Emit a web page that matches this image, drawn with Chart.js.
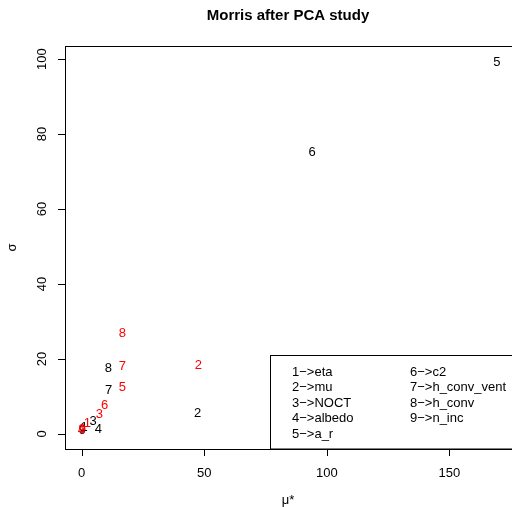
<!DOCTYPE html>
<html>
<head>
<meta charset="utf-8">
<script src="https://cdn.jsdelivr.net/npm/chart.js@4/dist/chart.umd.min.js"></script>
<style>
  html, body { margin: 0; padding: 0; background: #fff; overflow: hidden; }
  #wrap { width: 512px; height: 507px; overflow: hidden; }
</style>
</head>
<body>
<div id="wrap"><canvas id="myChart" width="530" height="507"></canvas></div>
<script>
"use strict";
// Morris screening: mu* vs sigma, two runs (black, red), points labelled by parameter index
const pointLabels = ["1", "2", "3", "4", "5", "6", "7", "8", "9"];
const muStarBlack = [1.0, 47.3, 4.7, 6.8, 169.4, 94.0, 11.0, 10.9, 0.3];
const sigmaBlack = [1.8, 5.5, 3.3, 1.3, 99.2, 75.2, 11.7, 17.5, 1.0];
const muStarRed = [2.3, 47.6, 7.2, -0.1, 16.6, 9.4, 16.6, 16.6, 0.2];
const sigmaRed = [2.8, 18.2, 5.3, 0.9, 12.3, 7.7, 18.1, 26.8, 1.1];
const paramNames = ["eta", "mu", "NOCT", "albedo", "a_r", "c2", "h_conv_vent", "h_conv", "n_inc"];
const xTicks = [0, 50, 100, 150];
const yTicks = [0, 20, 40, 60, 80, 100];

const FONT = "'Liberation Sans', Arial, Helvetica, sans-serif";

function toPoints(xs, ys) {
    return xs.map((x, i) => ({ x: x, y: ys[i], label: pointLabels[i] }));
}

// draws the R-style frame, axes, labelled points and the parameter key
const basePlot = {
    id: "basePlot",
    afterDraw(chart) {
        const ctx = chart.ctx;
        const area = chart.chartArea;
        const xs = chart.scales.x;
        const ys = chart.scales.y;
        ctx.save();

        // point labels
        ctx.font = "13px " + FONT;
        ctx.textAlign = "center";
        ctx.textBaseline = "middle";
        chart.data.datasets.forEach(ds => {
            ctx.fillStyle = ds.textColor;
            ds.data.forEach(p => {
                ctx.fillText(p.label, xs.getPixelForValue(p.x), ys.getPixelForValue(p.y));
            });
        });

        // frame
        ctx.strokeStyle = "#000";
        ctx.lineWidth = 1;
        ctx.strokeRect(Math.round(area.left) + 0.5, Math.round(area.top) + 0.5,
            Math.round(area.right - area.left), Math.round(area.bottom - area.top));

        // tick marks
        ctx.beginPath();
        xTicks.forEach(t => {
            const px = Math.round(xs.getPixelForValue(t)) + 0.5;
            ctx.moveTo(px, area.bottom);
            ctx.lineTo(px, area.bottom + 7);
        });
        yTicks.forEach(t => {
            const py = Math.round(ys.getPixelForValue(t)) + 0.5;
            ctx.moveTo(area.left, py);
            ctx.lineTo(area.left - 7, py);
        });
        ctx.stroke();

        ctx.fillStyle = "#000";
        ctx.font = "13px " + FONT;
        xTicks.forEach(t => {
            ctx.fillText(String(t), xs.getPixelForValue(t), area.bottom + 24);
        });
        yTicks.forEach(t => {
            ctx.save();
            ctx.translate(area.left - 23, ys.getPixelForValue(t));
            ctx.rotate(-Math.PI / 2);
            ctx.fillText(String(t), 0, 0);
            ctx.restore();
        });

        // axis titles and main title
        const midX = (area.left + area.right) / 2;
        ctx.fillText("μ*", midX - 2, area.bottom + 51);
        ctx.save();
        ctx.translate(12, (area.top + area.bottom) / 2);
        ctx.rotate(-Math.PI / 2);
        ctx.fillText("σ", 0, 0);
        ctx.restore();
        ctx.font = "bold 15px " + FONT;
        ctx.fillText("Morris after PCA study", midX - 2, 16);

        // parameter key, bottom right
        const boxLeft = 270.5, boxTop = 355.5;
        ctx.strokeRect(boxLeft, boxTop, area.right - boxLeft, area.bottom - boxTop);
        ctx.font = "13px " + FONT;
        ctx.textAlign = "left";
        paramNames.forEach((name, i) => {
            const col = i < 5 ? 0 : 1;
            const row = i < 5 ? i : i - 5;
            ctx.fillText((i + 1) + "\u2212>" + name, 292 + col * 118, 372 + row * 15.6);
        });
        ctx.restore();
    }
};

const ctx = document.querySelector("#myChart").getContext("2d");
const myChart = new Chart(ctx, {
    type: "scatter",
    data: {
        datasets: [
            { data: toPoints(muStarBlack, sigmaBlack), textColor: "#000000", pointRadius: 0 },
            { data: toPoints(muStarRed, sigmaRed), textColor: "#ff0000", pointRadius: 0 }
        ]
    },
    options: {
        responsive: false,
        animation: false,
        layout: { padding: { left: 65, top: 46, right: 15, bottom: 58 } },
        plugins: {
            legend: { display: false },
            title: { display: false },
            tooltip: { enabled: false }
        },
        scales: {
            x: { type: "linear", display: false, min: -6.8, max: 176.8 },
            y: { type: "linear", display: false, min: -4.0, max: 103.5 }
        }
    },
    plugins: [basePlot]
});
</script>
</body>
</html>
